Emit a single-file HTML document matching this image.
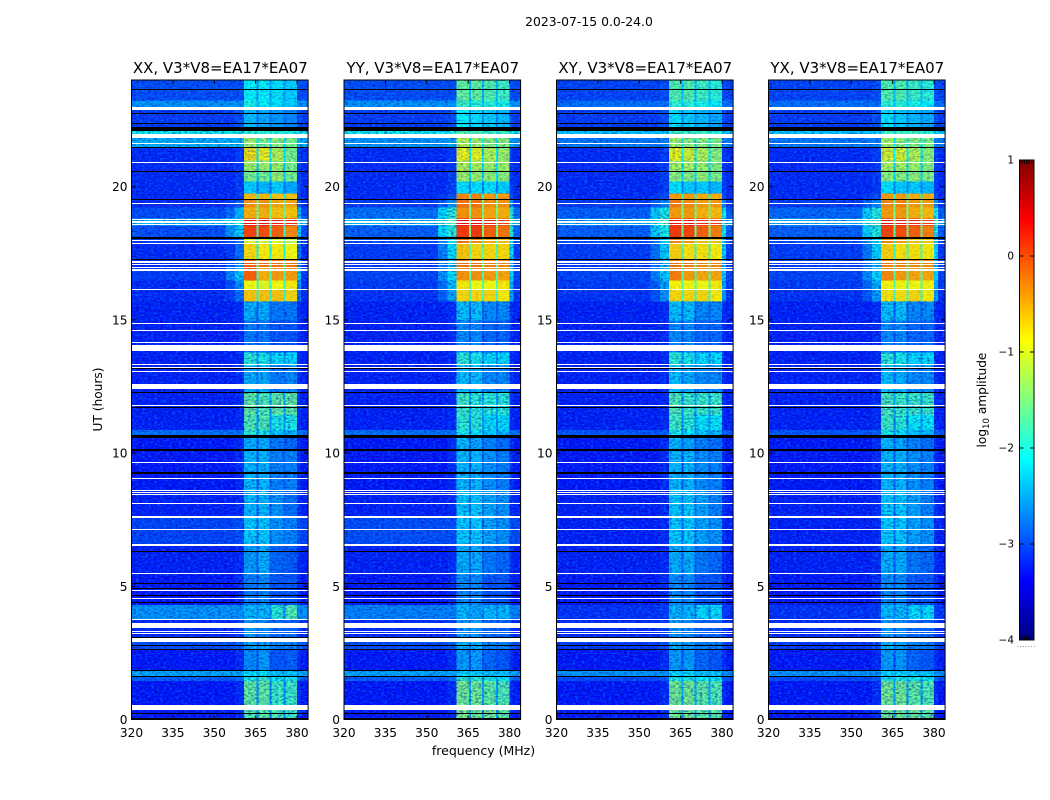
<!DOCTYPE html>
<html lang="en">
<head>
<meta charset="utf-8">
<title>2023-07-15 0.0-24.0</title>
<style>
html,body{margin:0;padding:0;background:#fff;}
svg{display:block;font-family:"DejaVu Sans","Liberation Sans",sans-serif;fill:#000;}
</style>
</head>
<body>
<svg id="figure" width="1050" height="800" viewBox="0 0 1050 800" xmlns="http://www.w3.org/2000/svg">
  <defs>
    <filter id="noise-light" x="0" y="0" width="100%" height="100%" color-interpolation-filters="sRGB">
      <feTurbulence type="fractalNoise" baseFrequency="0.33 0.55" numOctaves="2" seed="4"/>
      <feColorMatrix type="matrix" values="0 0 0 0 0  0 0 0 0 0.6  0 0 0 0 1  2.4 0 0 0 -1.0"/>
    </filter>
    <filter id="noise-dark" x="0" y="0" width="100%" height="100%" color-interpolation-filters="sRGB">
      <feTurbulence type="fractalNoise" baseFrequency="0.33 0.55" numOctaves="2" seed="11"/>
      <feColorMatrix type="matrix" values="0 0 0 0 0  0 0 0 0 0  0 0 0 0 0.6  2.4 0 0 0 -1.0"/>
    </filter>
    <linearGradient id="jet-gradient" x1="0" y1="1" x2="0" y2="0"></linearGradient>
  </defs>
  <text x="589" y="26" font-size="12.4" text-anchor="middle">2023-07-15 0.0-24.0</text>
  <text x="483.5" y="755" font-size="12.5" text-anchor="middle">frequency (MHz)</text>
  <text x="102" y="399.5" font-size="12.2" text-anchor="middle" transform="rotate(-90 102 399.5)">UT (hours)</text>
  <text x="986" y="400" font-size="12.2" text-anchor="middle" transform="rotate(-90 986 400)">log<tspan font-size="8.5" dy="3">10</tspan><tspan dy="-3"> amplitude</tspan></text>
</svg>
<script>
const panelTitles = ["XX, V3*V8=EA17*EA07", "YY, V3*V8=EA17*EA07", "XY, V3*V8=EA17*EA07", "YX, V3*V8=EA17*EA07"];
const xTickLabels = [320, 335, 350, 365, 380];
const yTickLabels = [0, 5, 10, 15, 20];
const colorTickLabels = [1, 0, -1, -2, -3, -4];
const freqEdges = [320, 354, 357.5, 360.7, 365.3, 366, 370.1, 370.7, 375.1, 375.8, 380, 381.5, 384];
const columnSeries = [0, 1, 2, 3, 4, 5, 4, 6, 4, 7, 2, 0];
const rowEdges = [0, 0.54, 1.44, 1.63, 1.86, 2.61, 2.98, 3.73, 4.29, 5.42, 6.54, 7.59, 8.61, 10.11, 10.59, 10.86, 11.42, 12.28, 13.29, 13.78, 14.98, 15.69, 16.11, 16.48, 16.97, 17.27, 17.87, 18.09, 18.54, 18.8, 19.22, 19.52, 19.74, 20.19, 20.6, 20.98, 21.47, 21.84, 22.1, 22.4, 22.97, 23.23, 24];

// each row: background, near skirt, far skirt, band A, band gap, band B, band C, band D (log10 amplitude)
const heatXX = [
[-3.3,-3.3,-3.2,-1.7,-2.6,-1.6,-1.7,-1.8],
[-3.3,-3.3,-3.2,-1.6,-2.6,-1.6,-1.8,-1.8],
[-2.9,-2.9,-2.8,-2.0,-2.6,-1.8,-2.1,-2.0],
[-2.5,-2.5,-2.5,-2.2,-2.4,-2.1,-2.3,-2.3],
[-3.3,-3.3,-3.2,-2.65,-3.0,-2.55,-2.95,-2.9],
[-3.0,-3.0,-2.9,-2.5,-2.8,-2.5,-2.7,-2.7],
[-3.2,-3.2,-3.1,-2.55,-2.9,-2.65,-2.85,-2.85],
[-2.6,-2.6,-2.6,-2.4,-2.6,-2.4,-1.9,-1.7],
[-3.3,-3.3,-3.2,-2.75,-3.0,-2.65,-2.95,-2.95],
[-3.25,-3.25,-3.2,-2.55,-2.9,-2.45,-2.85,-2.95],
[-3.05,-3.05,-3.0,-2.3,-2.8,-2.3,-2.6,-2.7],
[-3.25,-3.25,-3.2,-2.4,-2.9,-2.4,-2.6,-2.8],
[-3.3,-3.3,-3.2,-2.4,-2.9,-2.4,-2.7,-2.7],
[-3.3,-3.3,-3.2,-2.45,-2.9,-2.45,-2.75,-2.85],
[-2.8,-2.8,-2.8,-1.9,-2.6,-2.0,-2.3,-2.4],
[-3.25,-3.25,-3.2,-1.7,-2.6,-1.7,-2.0,-2.0],
[-3.25,-3.25,-3.2,-1.6,-2.5,-1.7,-1.6,-1.6],
[-3.25,-3.25,-3.2,-2.45,-2.8,-2.45,-2.75,-2.65],
[-3.25,-3.25,-3.2,-1.9,-2.6,-2.0,-2.2,-2.2],
[-3.25,-3.25,-3.2,-2.75,-3.0,-2.75,-2.95,-2.95],
[-3.25,-3.25,-3.2,-2.45,-2.9,-2.45,-2.75,-2.75],
[-3.2,-3.1,-2.8,-0.6,-1.9,-0.6,-0.6,-0.7],
[-3.2,-3.0,-2.6,-0.9,-1.8,-1.0,-0.9,-0.8],
[-3.1,-2.7,-2.3,-0.1,-1.8,-0.5,-0.4,-0.4],
[-3.2,-3.0,-2.6,-0.1,-1.7,-0.2,-0.2,-0.2],
[-3.2,-3.1,-2.8,-0.7,-2.0,-0.8,-0.8,-0.9],
[-3.1,-3.0,-2.8,-1.0,-2.0,-1.0,-1.0,-1.1],
[-3.0,-2.6,-2.3,0.05,-1.8,0.0,-0.1,-0.3],
[-2.4,-2.2,-2.0,0.3,-1.5,0.3,0.25,0.2],
[-3.0,-2.8,-2.4,-0.5,-1.6,-0.5,-0.6,-0.6],
[-3.2,-3.1,-2.9,-0.35,-1.6,-0.35,-0.45,-0.45],
[-3.2,-3.2,-3.1,-0.55,-2.0,-0.55,-0.6,-0.6],
[-3.2,-3.2,-3.1,-2.3,-2.8,-2.4,-2.3,-2.5],
[-3.2,-3.2,-3.1,-1.5,-2.3,-1.5,-1.35,-1.5],
[-3.2,-3.2,-3.1,-1.3,-2.3,-1.3,-1.3,-1.5],
[-3.2,-3.2,-3.1,-0.75,-2.2,-0.85,-1.2,-1.5],
[-2.45,-2.45,-2.4,-1.3,-2.2,-1.5,-1.4,-1.5],
[-2.05,-2.05,-2.0,-1.9,-2.0,-1.9,-1.9,-2.0],
[-3.1,-3.1,-3.0,-2.4,-2.8,-2.5,-2.6,-2.7],
[-3.1,-3.1,-3.0,-2.4,-2.8,-2.5,-2.6,-2.7],
[-2.6,-2.6,-2.6,-2.0,-2.4,-2.1,-2.2,-2.3],
[-3.0,-3.0,-3.0,-2.1,-2.6,-2.1,-2.2,-2.3]
];
const heatYY = [
[-3.3,-3.3,-3.2,-1.4,-2.5,-1.5,-1.5,-1.6],
[-3.3,-3.3,-3.2,-1.5,-2.5,-1.5,-1.6,-1.7],
[-2.9,-2.9,-2.8,-1.9,-2.5,-1.9,-2.0,-2.1],
[-2.5,-2.5,-2.5,-2.2,-2.4,-2.2,-2.3,-2.3],
[-3.3,-3.3,-3.2,-2.55,-3.0,-2.55,-2.85,-2.95],
[-3.0,-3.0,-2.9,-2.4,-2.8,-2.4,-2.7,-2.7],
[-3.2,-3.2,-3.1,-2.55,-2.9,-2.55,-2.85,-2.85],
[-2.7,-2.7,-2.7,-2.4,-2.6,-2.5,-2.4,-2.4],
[-3.3,-3.3,-3.2,-2.65,-3.0,-2.65,-2.95,-2.95],
[-3.25,-3.25,-3.2,-2.45,-2.9,-2.45,-2.75,-2.85],
[-3.0,-3.0,-3.0,-2.3,-2.8,-2.3,-2.5,-2.6],
[-3.25,-3.25,-3.2,-2.3,-2.8,-2.3,-2.5,-2.6],
[-3.3,-3.3,-3.2,-2.4,-2.9,-2.4,-2.6,-2.7],
[-3.3,-3.3,-3.2,-2.4,-2.9,-2.5,-2.7,-2.8],
[-2.8,-2.8,-2.8,-2.0,-2.6,-2.1,-2.3,-2.4],
[-3.25,-3.25,-3.2,-1.9,-2.6,-1.9,-2.2,-2.2],
[-3.25,-3.25,-3.2,-1.8,-2.5,-1.9,-1.9,-1.9],
[-3.25,-3.25,-3.2,-2.35,-2.8,-2.35,-2.65,-2.65],
[-3.25,-3.25,-3.2,-1.9,-2.6,-2.0,-2.2,-2.2],
[-3.25,-3.25,-3.2,-2.65,-3.0,-2.65,-2.85,-2.85],
[-3.25,-3.25,-3.2,-2.35,-2.9,-2.35,-2.65,-2.65],
[-3.15,-2.9,-2.5,-0.7,-1.8,-0.7,-0.7,-0.8],
[-3.1,-2.8,-2.4,-0.8,-1.7,-0.9,-0.9,-0.8],
[-3.05,-2.6,-2.2,-0.35,-1.7,-0.35,-0.4,-0.45],
[-3.1,-2.7,-2.4,-0.2,-1.6,-0.2,-0.3,-0.3],
[-3.1,-2.7,-2.2,-0.6,-1.7,-0.7,-0.7,-0.7],
[-3.0,-2.6,-2.2,-0.2,-1.6,-0.3,-0.5,-0.6],
[-2.9,-2.2,-1.9,0.1,-1.5,0.1,-0.1,-0.2],
[-2.4,-2.0,-1.7,0.35,-1.4,0.35,0.2,0.1],
[-2.8,-2.2,-1.9,-0.35,-1.5,-0.35,-0.45,-0.5],
[-3.1,-2.9,-2.6,-0.2,-1.5,-0.2,-0.35,-0.35],
[-3.2,-3.1,-3.0,-0.3,-1.9,-0.3,-0.4,-0.4],
[-3.2,-3.2,-3.1,-2.2,-2.7,-2.2,-2.2,-2.3],
[-3.2,-3.2,-3.1,-1.3,-2.2,-1.3,-1.35,-1.4],
[-3.2,-3.2,-3.1,-1.2,-2.2,-1.2,-1.3,-1.3],
[-3.2,-3.2,-3.1,-0.9,-2.1,-0.9,-1.2,-1.3],
[-2.6,-2.6,-2.5,-1.2,-2.1,-1.3,-1.4,-1.4],
[-2.05,-2.05,-2.0,-1.7,-2.0,-1.7,-1.8,-1.8],
[-3.1,-3.1,-3.0,-2.1,-2.7,-2.2,-2.3,-2.4],
[-3.1,-3.1,-3.0,-2.1,-2.7,-2.2,-2.3,-2.4],
[-2.6,-2.6,-2.6,-1.8,-2.3,-1.9,-1.9,-2.0],
[-3.0,-3.0,-3.0,-1.6,-2.4,-1.6,-1.7,-1.8]
];
const heatXY = [
[-3.3,-3.3,-3.2,-1.5,-2.5,-1.5,-1.6,-1.6],
[-3.3,-3.3,-3.2,-1.5,-2.5,-1.5,-1.6,-1.7],
[-3.0,-3.0,-2.9,-2.0,-2.5,-2.0,-2.1,-2.1],
[-2.6,-2.6,-2.6,-2.2,-2.4,-2.2,-2.3,-2.3],
[-3.3,-3.3,-3.2,-2.55,-3.0,-2.55,-2.85,-2.95],
[-3.1,-3.1,-3.0,-2.4,-2.8,-2.5,-2.7,-2.7],
[-3.2,-3.2,-3.1,-2.55,-2.9,-2.65,-2.85,-2.85],
[-3.15,-3.15,-3.1,-2.4,-2.7,-2.4,-2.2,-2.2],
[-3.3,-3.3,-3.2,-2.65,-3.0,-2.65,-2.95,-2.95],
[-3.25,-3.25,-3.2,-2.45,-2.9,-2.45,-2.75,-2.85],
[-3.25,-3.25,-3.2,-2.3,-2.8,-2.3,-2.5,-2.6],
[-3.25,-3.25,-3.2,-2.3,-2.8,-2.3,-2.5,-2.7],
[-3.3,-3.3,-3.2,-2.4,-2.9,-2.4,-2.6,-2.7],
[-3.3,-3.3,-3.2,-2.4,-2.9,-2.5,-2.7,-2.8],
[-2.95,-2.95,-2.9,-2.0,-2.6,-2.1,-2.3,-2.4],
[-3.25,-3.25,-3.2,-1.8,-2.6,-1.9,-2.1,-2.1],
[-3.25,-3.25,-3.2,-1.7,-2.5,-1.8,-1.8,-1.8],
[-3.25,-3.25,-3.2,-2.35,-2.8,-2.45,-2.65,-2.65],
[-3.25,-3.25,-3.2,-1.9,-2.6,-2.0,-2.2,-2.2],
[-3.25,-3.25,-3.2,-2.65,-3.0,-2.65,-2.85,-2.85],
[-3.25,-3.25,-3.2,-2.35,-2.9,-2.35,-2.65,-2.65],
[-3.15,-2.95,-2.6,-0.7,-1.8,-0.7,-0.7,-0.8],
[-3.1,-2.9,-2.5,-0.85,-1.7,-0.9,-0.9,-0.8],
[-3.05,-2.7,-2.3,-0.25,-1.7,-0.4,-0.45,-0.45],
[-3.1,-2.8,-2.5,-0.2,-1.6,-0.25,-0.3,-0.3],
[-3.1,-2.8,-2.3,-0.65,-1.8,-0.75,-0.75,-0.8],
[-3.0,-2.7,-2.3,-0.3,-1.7,-0.4,-0.6,-0.6],
[-2.9,-2.3,-2.0,0.1,-1.6,0.05,-0.1,-0.25],
[-2.5,-2.1,-1.8,0.3,-1.4,0.3,0.2,0.1],
[-2.9,-2.3,-2.0,-0.4,-1.5,-0.4,-0.5,-0.55],
[-3.1,-2.9,-2.7,-0.25,-1.5,-0.3,-0.4,-0.4],
[-3.2,-3.1,-3.0,-0.4,-1.9,-0.4,-0.5,-0.5],
[-3.2,-3.2,-3.1,-2.2,-2.7,-2.3,-2.3,-2.4],
[-3.2,-3.2,-3.1,-1.4,-2.2,-1.4,-1.35,-1.45],
[-3.2,-3.2,-3.1,-1.25,-2.2,-1.25,-1.3,-1.4],
[-3.2,-3.2,-3.1,-0.9,-2.1,-1.0,-1.2,-1.4],
[-2.75,-2.75,-2.7,-1.3,-2.1,-1.4,-1.4,-1.45],
[-2.3,-2.3,-2.3,-1.8,-2.0,-1.8,-1.8,-1.9],
[-3.1,-3.1,-3.0,-2.2,-2.7,-2.3,-2.4,-2.5],
[-3.1,-3.1,-3.0,-2.2,-2.7,-2.3,-2.4,-2.5],
[-2.8,-2.8,-2.8,-1.9,-2.3,-1.9,-2.0,-2.1],
[-3.05,-3.05,-3.0,-1.7,-2.4,-1.7,-1.8,-1.9]
];
const heatYX = [
[-3.3,-3.3,-3.2,-1.5,-2.5,-1.5,-1.5,-1.6],
[-3.3,-3.3,-3.2,-1.5,-2.5,-1.5,-1.6,-1.7],
[-3.0,-3.0,-2.9,-2.0,-2.5,-2.0,-2.0,-2.1],
[-2.6,-2.6,-2.6,-2.2,-2.4,-2.2,-2.3,-2.3],
[-3.3,-3.3,-3.2,-2.55,-3.0,-2.55,-2.85,-2.95],
[-3.1,-3.1,-3.0,-2.4,-2.8,-2.5,-2.7,-2.7],
[-3.2,-3.2,-3.1,-2.55,-2.9,-2.65,-2.85,-2.85],
[-3.15,-3.15,-3.1,-2.4,-2.7,-2.4,-2.2,-2.2],
[-3.3,-3.3,-3.2,-2.65,-3.0,-2.65,-2.95,-2.95],
[-3.25,-3.25,-3.2,-2.45,-2.9,-2.45,-2.75,-2.85],
[-3.25,-3.25,-3.2,-2.3,-2.8,-2.3,-2.5,-2.6],
[-3.25,-3.25,-3.2,-2.3,-2.8,-2.3,-2.5,-2.7],
[-3.3,-3.3,-3.2,-2.4,-2.9,-2.4,-2.6,-2.7],
[-3.3,-3.3,-3.2,-2.4,-2.9,-2.5,-2.7,-2.8],
[-2.95,-2.95,-2.9,-2.0,-2.6,-2.1,-2.3,-2.4],
[-3.25,-3.25,-3.2,-1.8,-2.6,-1.9,-2.1,-2.1],
[-3.25,-3.25,-3.2,-1.75,-2.5,-1.8,-1.8,-1.8],
[-3.25,-3.25,-3.2,-2.35,-2.8,-2.45,-2.65,-2.65],
[-3.25,-3.25,-3.2,-1.9,-2.6,-2.0,-2.2,-2.2],
[-3.25,-3.25,-3.2,-2.65,-3.0,-2.65,-2.85,-2.85],
[-3.25,-3.25,-3.2,-2.35,-2.9,-2.35,-2.65,-2.65],
[-3.15,-2.95,-2.55,-0.75,-1.8,-0.75,-0.7,-0.8],
[-3.1,-2.85,-2.45,-0.85,-1.7,-0.9,-0.9,-0.85],
[-3.05,-2.65,-2.25,-0.3,-1.7,-0.4,-0.45,-0.45],
[-3.1,-2.75,-2.45,-0.25,-1.6,-0.25,-0.3,-0.3],
[-3.1,-2.75,-2.25,-0.65,-1.8,-0.75,-0.75,-0.8],
[-3.0,-2.65,-2.25,-0.3,-1.7,-0.4,-0.6,-0.6],
[-2.9,-2.25,-1.95,0.05,-1.6,0.0,-0.1,-0.25],
[-2.5,-2.05,-1.75,0.3,-1.4,0.25,0.2,0.1],
[-2.85,-2.25,-1.95,-0.4,-1.5,-0.4,-0.5,-0.55],
[-3.1,-2.9,-2.65,-0.3,-1.5,-0.3,-0.4,-0.4],
[-3.2,-3.1,-3.0,-0.4,-1.9,-0.4,-0.5,-0.5],
[-3.2,-3.2,-3.1,-2.2,-2.7,-2.3,-2.3,-2.4],
[-3.2,-3.2,-3.1,-1.4,-2.2,-1.4,-1.35,-1.45],
[-3.2,-3.2,-3.1,-1.25,-2.2,-1.25,-1.3,-1.4],
[-3.2,-3.2,-3.1,-1.0,-2.1,-1.0,-1.2,-1.4],
[-2.75,-2.75,-2.7,-1.3,-2.1,-1.4,-1.4,-1.45],
[-2.3,-2.3,-2.3,-1.8,-2.0,-1.8,-1.8,-1.9],
[-3.1,-3.1,-3.0,-2.2,-2.7,-2.3,-2.4,-2.5],
[-3.1,-3.1,-3.0,-2.2,-2.7,-2.3,-2.4,-2.5],
[-2.8,-2.8,-2.8,-1.9,-2.3,-1.9,-2.0,-2.1],
[-3.05,-3.05,-3.0,-1.7,-2.4,-1.7,-1.8,-1.9]
];
const panelHeat = [heatXX, heatYY, heatXY, heatYX];

// flagged time ranges in hours [start, end]
const blankedHours = [[0.36,0.55],[2.91,3.04],[3.21,3.24],[3.30,3.34],[3.43,3.64],[3.73,3.77],[4.52,4.56],[4.82,4.86],[5.46,5.49],[6.51,6.58],[7.11,7.14],[7.55,7.63],[8.08,8.12],[8.42,8.45],[8.51,8.55],[8.57,8.6],[9.02,9.06],[9.62,9.66],[11.76,11.79],[12.39,12.58],[13.03,13.07],[13.18,13.22],[13.29,13.33],[13.82,14.04],[14.12,14.15],[14.57,14.6],[14.83,14.87],[16.11,16.14],[16.85,16.89],[16.97,17.0],[17.06,17.1],[17.15,17.19],[17.84,17.88],[17.94,17.98],[18.54,18.58],[18.65,18.69],[18.75,18.79],[19.33,19.37],[20.87,20.91],[21.62,21.65],[21.84,21.99],[22.89,22.97]];
const zeroedHours = [[0.0,0.04],[0.21,0.24],[1.59,1.63],[1.82,1.86],[2.61,2.64],[2.76,2.79],[3.06,3.09],[4.37,4.41],[4.63,4.67],[4.89,4.93],[5.08,5.12],[6.28,6.32],[9.2,9.27],[10.07,10.14],[10.56,10.67],[11.68,11.72],[12.24,12.28],[13.14,13.18],[17.23,17.27],[18.05,18.09],[19.49,19.52],[20.57,20.6],[21.43,21.47],[22.1,22.25],[22.36,22.4],[22.71,22.75],[23.64,23.68]];

const NS = "http://www.w3.org/2000/svg";
const svg = document.getElementById("figure");
const panelLefts = [131.5, 344, 556.5, 768.5];
const plotWidth = 176.6, plotTop = 80, plotBottom = 719.5;
const xMin = 320, xMax = 384, yMin = 0, yMax = 24;
const bandLow = 360.7, bandHigh = 380, brightStart = 15.69, brightEnd = 19.74;
const xScale = (left, f) => left + (f - xMin) / (xMax - xMin) * plotWidth;
const yScale = h => plotBottom - (h - yMin) / (yMax - yMin) * (plotBottom - plotTop);

function make(tag, attrs, parent) {
  const el = document.createElementNS(NS, tag);
  for (const k in attrs) el.setAttribute(k, attrs[k]);
  parent.appendChild(el);
  return el;
}
function jet(t) {
  const c = x => Math.max(0, Math.min(1, x));
  const r = c(Math.min(4 * t - 1.5, -4 * t + 4.5));
  const g = c(Math.min(4 * t - 0.5, -4 * t + 3.5));
  const b = c(Math.min(4 * t + 0.5, -4 * t + 2.5));
  return "rgb(" + Math.round(r * 255) + "," + Math.round(g * 255) + "," + Math.round(b * 255) + ")";
}
const colorOf = v => jet((v + 4) / 5);

panelTitles.forEach((title, p) => {
  const left = panelLefts[p];
  const right = left + plotWidth;
  const g = make("g", {}, svg);
  
  

  const heat = panelHeat[p];
  rowEdges.slice(0, -1).forEach((h0, r) => {
    const yTop = yScale(rowEdges[r + 1]), yBot = yScale(h0);
    columnSeries.forEach((series, c) => {
      const x0 = xScale(left, freqEdges[c]), x1 = xScale(left, freqEdges[c + 1]);
      const cell = make("rect", {x: x0, y: yTop, width: x1 - x0, height: yBot - yTop, fill: colorOf(heat[r][series]), "shape-rendering": "crispEdges"}, g);
      
      
    });
  });

  [[xMin, bandLow, yMin, yMax, 0.55], [bandHigh, xMax, yMin, yMax, 0.55], [bandLow, bandHigh, yMin, brightStart, 0.55], [bandLow, bandHigh, brightStart, brightEnd, 0.14], [bandLow, bandHigh, brightEnd, yMax, 0.35]].forEach(region => {
    const x0 = xScale(left, region[0]), x1 = xScale(left, region[1]);
    const y0 = yScale(region[3]), y1 = yScale(region[2]);
    const lightNoise = make("rect", {x: x0, y: y0, width: x1 - x0, height: y1 - y0, filter: "url(#noise-light)", opacity: region[4]}, g);
    
    
    const darkNoise = make("rect", {x: x0, y: y0, width: x1 - x0, height: y1 - y0, filter: "url(#noise-dark)", opacity: region[4]}, g);
    
    
  });

  blankedHours.forEach(b => {
    const y0 = Math.round(yScale(b[1])), y1 = Math.round(yScale(b[0]));
    const band = make("rect", {x: left, y: y0, width: plotWidth, height: Math.max(1, y1 - y0), fill: "#fff", "shape-rendering": "crispEdges"}, g);
    
    
  });
  zeroedHours.forEach(b => {
    const y0 = Math.round(yScale(b[1])), y1 = Math.round(yScale(b[0]));
    const band = make("rect", {x: left, y: y0, width: plotWidth, height: Math.max(1, y1 - y0), fill: "#000", "shape-rendering": "crispEdges"}, g);
    
    
  });

  const frame = make("rect", {x: left, y: plotTop, width: plotWidth, height: plotBottom - plotTop, fill: "none", stroke: "#000", "stroke-width": 1}, g);
  
  

  const titleEl = make("text", {x: left + plotWidth / 2 + 0.5, y: 73, "font-size": 15, "text-anchor": "middle"}, g);
  titleEl.textContent = title;
  
  

  xTickLabels.forEach(t => {
    const x = xScale(left, t);
    const tick = make("path", {d: "M" + x + " " + plotBottom + "v-4M" + x + " " + plotTop + "v4", stroke: "#000", fill: "none"}, g);
    
    
    const label = make("text", {x: x, y: 737, "font-size": 12.2, "text-anchor": "middle"}, g);
    label.textContent = t;
    
    
  });
  yTickLabels.forEach(t => {
    const y = yScale(t);
    const tick = make("path", {d: "M" + left + " " + y + "h4M" + right + " " + y + "h-4", stroke: "#000", fill: "none"}, g);
    
    
    const label = make("text", {x: left - 4, y: y + 4.5, "font-size": 12.2, "text-anchor": "end"}, g);
    label.textContent = t;
    
    
  });
});

// colorbar
const cbLeft = 1019.5, cbRight = 1034, cbTop = 160, cbBottom = 640;
const cbScale = v => cbBottom - (v + 4) / 5 * (cbBottom - cbTop);
const gradient = document.getElementById("jet-gradient");
for (let i = 0; i <= 32; i++) {
  make("stop", {offset: (i / 32 * 100) + "%", "stop-color": jet(i / 32)}, gradient);
}
const cb = make("g", {}, svg);


const cbBar = make("rect", {x: cbLeft, y: cbTop, width: cbRight - cbLeft, height: cbBottom - cbTop, fill: "url(#jet-gradient)", stroke: "#000", "stroke-width": 1}, cb);


colorTickLabels.forEach(t => {
  const y = cbScale(t);
  const tick = make("path", {d: "M" + cbLeft + " " + y + "h4M" + cbRight + " " + y + "h-4", stroke: "#000", fill: "none"}, cb);
  
  
  const label = make("text", {x: 1014, y: y + 3.5, "font-size": 10.5, "text-anchor": "end"}, cb);
  label.textContent = t < 0 ? "\u2212" + (-t) : String(t);
  
  
});
for (let i = 1; i <= 5; i++) {
  const x = cbLeft + i * (cbRight - cbLeft) / 6;
  const minor = make("path", {d: "M" + x + " " + cbTop + "v4M" + x + " " + cbBottom + "v-4", stroke: "#000", fill: "none"}, cb);
  
  
}
for (let i = 0; i <= 6; i++) {
  const dot = make("rect", {x: 1017.5 + i * 2.7, y: 646, width: 1, height: 1, fill: "#999"}, cb);
  
  
}
</script>
</body>
</html>
